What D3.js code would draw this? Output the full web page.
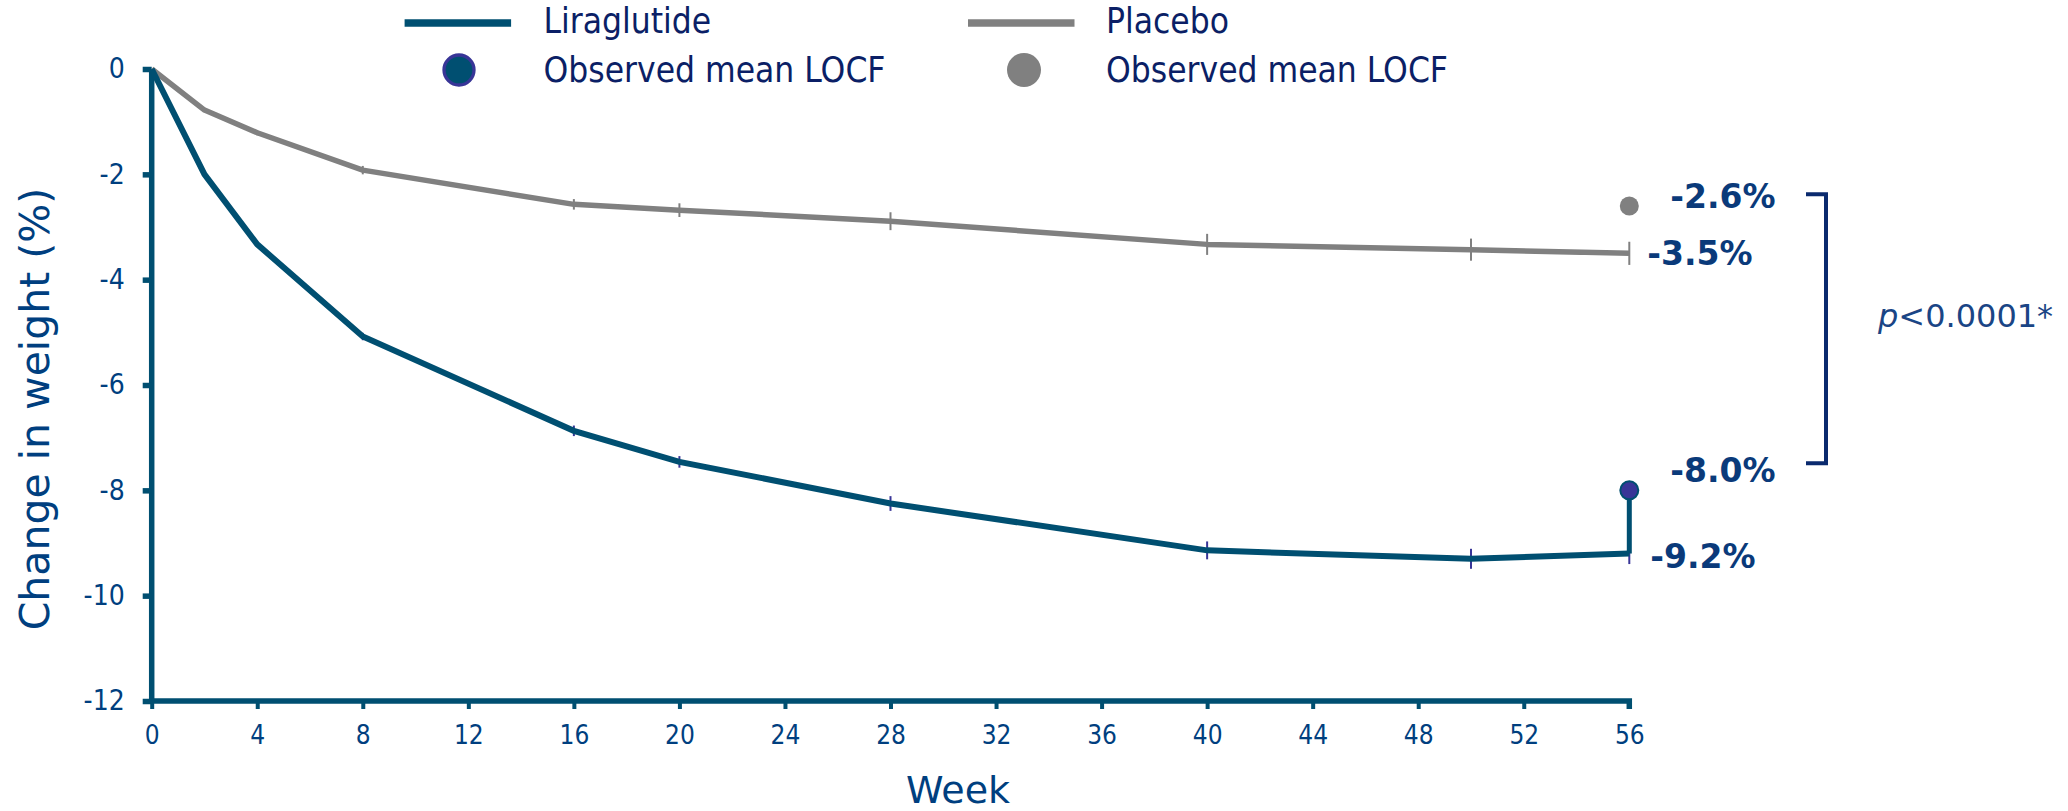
<!DOCTYPE html>
<html>
<head>
<meta charset="utf-8">
<script src="https://cdn.jsdelivr.net/npm/d3@7"></script>
<style>
    body { margin: 0; background: #fff; }
    svg { display: block; font-family: "DejaVu Sans", Verdana, sans-serif; }
    .legend-text, .tick text { font-family: "DejaVu Sans Condensed", "DejaVu Sans", sans-serif; font-stretch: condensed; }
</style>
</head>
<body>
<svg id="chart"></svg>
<script>
const weeks = [0, 2, 4, 8, 16, 20, 28, 40, 50, 56];
const liraglutide = [0, -2.0, -3.33, -5.08, -6.87, -7.46, -8.25, -9.14, -9.30, -9.2];
const placebo = [0, -0.78, -1.21, -1.92, -2.57, -2.68, -2.89, -3.33, -3.43, -3.5];
const liraglutideErr = [0, 0.04, 0.05, 0.07, 0.1, 0.11, 0.14, 0.17, 0.19, 0.2];
const placeboErr = [0, 0.04, 0.05, 0.08, 0.1, 0.13, 0.17, 0.2, 0.21, 0.22];
const locfWeek = 56;
const liraglutideLocf = -8.0;
const placeboLocf = -2.6;
const xTicks = [0, 4, 8, 12, 16, 20, 24, 28, 32, 36, 40, 44, 48, 52, 56];
const yTicks = [0, -2, -4, -6, -8, -10, -12];
const legendNames = ["Liraglutide", "Placebo"];
const legendDotLabel = "Observed mean LOCF";
const pValueText = "<0.0001*";

(function () {
    const W = 2068;
    const H = 811;
    const tealBlue = "#004f71";
    const grey = "#808080";
    const purple = "#383597";
    const navy = "#003f7f";

    const svg = d3.select("#chart")
        .attr("width", W)
        .attr("height", H);

    const x = d3.scaleLinear().domain([0, 56]).range([151.7, 1629.3]);
    const y = d3.scaleLinear().domain([-12, 0]).range([701, 69]);

    // axes
    const yAxis = svg.append("g")
        .attr("transform", `translate(${x(0)},0)`)
        .call(d3.axisLeft(y).tickValues(yTicks).tickSize(9).tickPadding(18).tickFormat(d3.format("d")));
    const xAxis = svg.append("g")
        .attr("transform", `translate(0,${y(-12)})`)
        .call(d3.axisBottom(x).tickValues(xTicks).tickSize(8).tickPadding(17).tickSizeOuter(8));

    yAxis.select(".domain").attr("stroke", tealBlue).attr("stroke-width", 5.5)
        .attr("d", `M0,${y(0)}V${y(-12)}`);
    yAxis.selectAll(".tick line").attr("stroke", tealBlue).attr("stroke-width", 5.5);
    yAxis.selectAll(".tick text")
        .attr("fill", navy).attr("font-size", 28)
        .attr("font-family", null)
        .text(d => d === 0 ? "0" : "-" + Math.abs(d));
    xAxis.select(".domain").attr("stroke", tealBlue).attr("stroke-width", 5.5)
        .attr("d", `M${x(0)},0H${x(56)}V8`);
    xAxis.selectAll(".tick line").attr("stroke", tealBlue).attr("stroke-width", 4);
    xAxis.selectAll(".tick text")
        .attr("fill", navy).attr("font-size", 26)
        .attr("font-family", null);

    // axis titles
    svg.append("text")
        .attr("transform", `translate(48.5,409) rotate(-90)`)
        .attr("text-anchor", "middle")
        .attr("fill", navy)
        .attr("font-size", 41)
        .text("Change in weight (%)");
    svg.append("text")
        .attr("x", 958).attr("y", 803)
        .attr("text-anchor", "middle")
        .attr("fill", navy)
        .attr("font-size", 38)
        .text("Week");

    const line = d3.line().x(d => x(d[0])).y(d => y(d[1]));
    const liraData = weeks.map((w, i) => [w, liraglutide[i], liraglutideErr[i]]);
    const placeboData = weeks.map((w, i) => [w, placebo[i], placeboErr[i]]);

    // error bars
    function errBars(data, color) {
        svg.append("g")
            .selectAll("line")
            .data(data)
            .enter().append("line")
            .attr("x1", d => x(d[0])).attr("x2", d => x(d[0]))
            .attr("y1", d => y(d[1] + d[2])).attr("y2", d => y(d[1] - d[2]))
            .attr("stroke", color)
            .attr("stroke-width", 2);
    }
    errBars(placeboData, grey);
    errBars(liraData, purple);

    svg.append("path")
        .datum(placeboData)
        .attr("fill", "none")
        .attr("stroke", grey)
        .attr("stroke-width", 5.5)
        .attr("stroke-linejoin", "round")
        .attr("d", line);
    svg.append("path")
        .datum(liraData)
        .attr("fill", "none")
        .attr("stroke", tealBlue)
        .attr("stroke-width", 6)
        .attr("d", line);

    // LOCF connector + dots
    svg.append("line")
        .attr("x1", x(locfWeek)).attr("x2", x(locfWeek))
        .attr("y1", y(liraglutideLocf)).attr("y2", y(liraglutide[liraglutide.length - 1]))
        .attr("stroke", tealBlue).attr("stroke-width", 5);
    svg.append("circle")
        .attr("cx", x(locfWeek)).attr("cy", y(placeboLocf)).attr("r", 9.5)
        .attr("fill", grey);
    svg.append("circle")
        .attr("cx", x(locfWeek)).attr("cy", y(liraglutideLocf)).attr("r", 9)
        .attr("fill", purple).attr("stroke", tealBlue).attr("stroke-width", 2);

    // value labels
    const fmt = v => v.toFixed(1) + "%";
    const labels = [
        { v: placeboLocf, dx: 41, dy: 2.5 },
        { v: placebo[placebo.length - 1], dx: 18, dy: 11.7 },
        { v: liraglutideLocf, dx: 41, dy: -8 },
        { v: liraglutide[liraglutide.length - 1], dx: 21, dy: 14.6 }
    ];
    svg.append("g")
        .selectAll("text")
        .data(labels)
        .enter().append("text")
        .attr("x", d => x(locfWeek) + d.dx)
        .attr("y", d => y(d.v) + d.dy)
        .attr("fill", "#0a3a7a")
        .attr("font-size", 33)
        .attr("font-weight", "bold")
        .text(d => fmt(d.v));

    // bracket
    const bTop = y(placeboLocf) - 11.6;
    const bBot = y(liraglutideLocf) - 27;
    svg.append("path")
        .attr("d", `M1806,${bTop}H1826V${bBot}H1806`)
        .attr("fill", "none")
        .attr("stroke", "#0a2a6e")
        .attr("stroke-width", 4);
    const pText = svg.append("text")
        .attr("x", 1878).attr("y", 327)
        .attr("fill", "#1a4585")
        .attr("font-size", 32);
    pText.append("tspan").attr("font-style", "italic").text("p");
    pText.append("tspan").text(pValueText);

    // legend
    const legendColors = [tealBlue, grey];
    const legendX = [404.6, 968];
    const legendTextX = [543.5, 1106];
    const legendDotX = [459, 1024];
    legendNames.forEach((name, i) => {
        svg.append("line")
            .attr("x1", legendX[i]).attr("x2", legendX[i] + 106.5)
            .attr("y1", 23).attr("y2", 23)
            .attr("stroke", legendColors[i]).attr("stroke-width", 7.7);
        svg.append("text")
            .attr("class", "legend-text")
            .attr("x", legendTextX[i]).attr("y", 33)
            .attr("fill", "#0b1f66").attr("font-size", 35)
            .text(name);
        svg.append("circle")
            .attr("cx", legendDotX[i]).attr("cy", 70)
            .attr("r", i === 0 ? 15 : 17)
            .attr("fill", legendColors[i])
            .attr("stroke", i === 0 ? purple : "none")
            .attr("stroke-width", 3.3);
        svg.append("text")
            .attr("class", "legend-text")
            .attr("x", legendTextX[i]).attr("y", 82)
            .attr("fill", "#0b1f66").attr("font-size", 35)
            .text(legendDotLabel);
    });
})();
</script>
</body>
</html>
